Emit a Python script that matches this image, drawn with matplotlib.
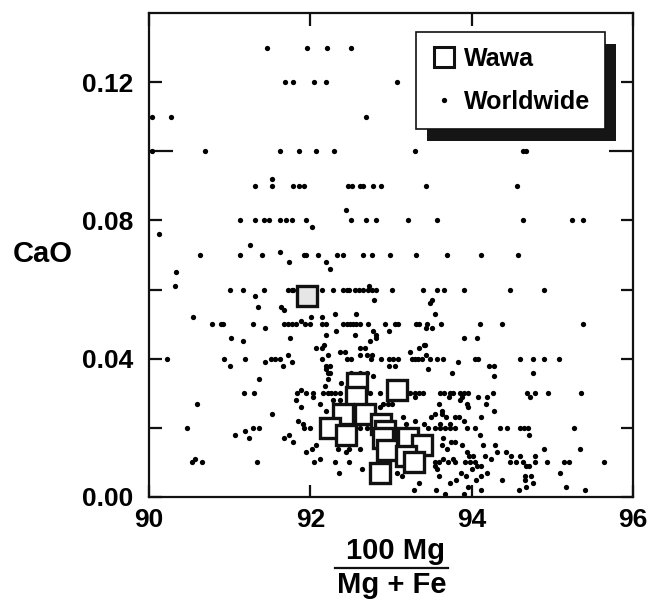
import matplotlib
matplotlib.use('Agg')
import matplotlib.pyplot as plt
from matplotlib.patches import Rectangle
from matplotlib.lines import Line2D

plt.rcParams['font.family'] = ['Liberation Sans', 'DejaVu Sans']
plt.rcParams['font.weight'] = 'bold'

# Wawa olivines (100Mg/(Mg+Fe), CaO)
wawa_mg = [91.96, 92.58, 93.07, 92.56, 92.41, 92.68, 92.25, 92.44, 92.87,
           92.92, 92.90, 93.21, 93.38, 92.95, 93.18, 93.29, 92.86]
wawa_cao = [0.058, 0.033, 0.031, 0.029, 0.024, 0.024, 0.020, 0.018, 0.021,
            0.019, 0.017, 0.017, 0.015, 0.0135, 0.012, 0.010, 0.007]

# worldwide olivine inclusions, read row by row from the top
world_mg = [
    91.46, 91.96, 92.21, 92.51,
    91.68, 91.78, 92.04, 92.20, 93.07,
    90.04, 90.27, 92.69,
    90.04, 90.69, 91.62, 91.86, 92.07, 92.29, 93.30, 94.64, 94.67,
    91.53,
    91.31, 91.53, 91.79, 91.86, 91.92, 92.47, 92.52, 92.62, 92.65, 92.78, 92.87, 93.43, 94.56,
    92.44,
    91.13, 91.31, 91.43, 91.49, 91.63, 91.70, 91.77, 91.95, 92.50, 92.69, 92.82, 93.21, 93.57, 94.64, 95.24, 95.38,
    92.02, 90.13, 91.25,
    90.63, 91.13, 91.40, 91.63, 91.92, 91.95, 92.09, 92.33, 92.40, 92.65, 92.76, 92.99, 93.31, 93.70, 94.12, 94.58,
    91.73, 92.19, 92.24, 90.34, 90.32,
    91.01, 91.17, 91.43, 91.72, 91.77, 91.79, 92.14, 92.28, 92.40, 92.45, 92.48, 92.55, 92.60, 92.65, 92.71,
    92.76, 92.81, 92.73, 93.01, 93.40, 93.57, 93.66, 93.90, 94.47, 94.90,
    91.32, 92.79, 93.51, 93.48, 91.35, 91.64, 91.67, 93.55, 92.31, 92.57,
    90.55, 92.01, 92.14, 91.88,
    90.78, 90.89, 90.92, 91.29, 91.67, 91.72, 91.77, 91.82, 91.94, 91.99, 92.14, 92.19, 92.41, 92.45, 92.49,
    92.53, 92.57, 92.62, 92.72, 92.93, 93.05, 93.09, 93.31, 93.35, 93.45, 93.62, 94.10, 94.38, 95.38,
    91.44, 93.44, 93.51, 92.98, 92.32, 92.78, 92.82, 92.81, 92.19, 92.55, 91.02, 91.75, 93.90, 94.06, 91.17,
    92.74, 92.17, 93.42, 92.07, 92.15, 92.61, 92.68, 93.35, 93.41, 93.24, 92.37, 92.43, 93.44, 91.72, 92.22,
    92.62, 92.70, 92.77,
    90.22, 90.93, 91.19, 91.51, 91.56, 91.62, 92.14, 92.45, 92.51, 92.75, 92.88, 92.97, 93.03, 93.09, 93.26,
    93.30, 93.34, 93.38, 93.48, 93.57, 93.64, 94.04, 94.08, 94.60, 94.76, 94.90, 95.08,
    91.44, 91.77, 93.83, 91.00, 91.66, 92.19, 92.24, 92.98, 93.05, 94.22, 94.28, 92.20, 93.46, 92.22, 92.24,
    93.76, 94.76, 92.50, 92.62, 92.70, 92.78, 94.28, 91.36, 92.22, 92.38, 92.18,
    91.18, 91.30, 91.84, 91.89, 91.95, 92.03, 92.16, 92.22, 92.26, 92.31, 92.37, 92.74, 92.86, 93.24, 93.30,
    93.35, 93.40, 93.61, 93.66, 93.73, 93.77, 93.85, 93.90, 93.95, 94.26, 94.68, 94.78, 94.95, 95.36,
    92.03, 93.30, 93.72, 93.88, 94.08, 94.19, 94.72, 91.82, 92.28, 92.37, 93.85, 90.60, 92.12, 92.90, 92.96,
    93.01, 93.60, 93.94, 94.18, 91.89, 92.86, 93.95, 92.20, 93.63, 94.28, 91.53, 93.63, 93.55, 93.49, 93.68,
    93.79, 93.84, 94.11, 93.15, 91.85, 93.90, 93.30, 91.91, 93.19, 93.41, 93.61, 93.73,
    90.47, 91.29, 91.36, 91.92, 91.99, 92.62, 92.70, 93.46, 93.55, 93.61, 93.67, 93.73, 93.79, 93.94, 94.04,
    94.35, 94.44, 94.60, 94.65, 94.70, 95.27,
    91.19, 91.06, 91.73, 94.10, 94.71, 91.24, 91.67, 93.65, 91.78, 93.74, 93.79, 92.07, 93.63, 93.88, 94.14,
    94.29, 92.02, 92.34, 92.48, 92.62, 93.70, 94.90, 95.34, 91.95, 92.44, 93.94, 94.32, 94.43, 93.97, 94.02,
    94.17, 94.49, 94.60, 94.79, 92.12, 94.24, 90.57, 93.65, 93.77,
    90.53, 90.66, 91.34, 92.04, 92.31, 92.48, 93.55, 93.60, 93.71, 93.79, 93.92, 93.98, 94.04, 94.47, 94.55,
    94.64, 94.78, 94.93, 95.14, 95.21, 95.64,
    93.55, 94.06, 94.12, 94.67, 94.71, 92.64, 93.57, 94.01, 92.35, 93.08, 93.87, 94.19, 95.09, 93.14, 93.60,
    93.93, 94.12, 94.66, 94.73, 93.81, 94.05, 94.38, 94.66, 93.35, 93.73, 94.76, 93.95, 94.67, 95.17, 93.28,
    93.56, 94.12, 94.59, 95.40, 93.67, 93.90,
]
world_cao = [
    0.130, 0.130, 0.130, 0.130,
    0.120, 0.120, 0.120, 0.120, 0.120,
    0.110, 0.110, 0.110,
    0.100, 0.100, 0.100, 0.100, 0.100, 0.100, 0.100, 0.100, 0.100,
    0.092,
    0.090, 0.090, 0.090, 0.090, 0.090, 0.090, 0.090, 0.090, 0.090, 0.090, 0.090, 0.090, 0.090,
    0.083,
    0.080, 0.080, 0.080, 0.080, 0.080, 0.080, 0.080, 0.080, 0.080, 0.080, 0.080, 0.080, 0.080, 0.080, 0.080, 0.080,
    0.078, 0.076, 0.073,
    0.070, 0.070, 0.070, 0.071, 0.070, 0.070, 0.070, 0.070, 0.070, 0.070, 0.070, 0.070, 0.070, 0.070, 0.070, 0.070,
    0.068, 0.068, 0.066, 0.065, 0.061,
    0.060, 0.060, 0.060, 0.060, 0.060, 0.060, 0.060, 0.060, 0.060, 0.060, 0.060, 0.060, 0.060, 0.060, 0.060,
    0.060, 0.060, 0.061, 0.060, 0.060, 0.060, 0.060, 0.060, 0.060, 0.060,
    0.058, 0.057, 0.057, 0.056, 0.055, 0.055, 0.054, 0.053, 0.053, 0.053,
    0.052, 0.052, 0.052, 0.051,
    0.050, 0.050, 0.050, 0.050, 0.050, 0.050, 0.050, 0.050, 0.050, 0.050, 0.050, 0.050, 0.050, 0.050, 0.050,
    0.050, 0.050, 0.050, 0.050, 0.050, 0.050, 0.050, 0.050, 0.050, 0.050, 0.050, 0.050, 0.050, 0.050,
    0.049, 0.049, 0.049, 0.048, 0.048, 0.048, 0.047, 0.046, 0.047, 0.047, 0.046, 0.046, 0.046, 0.046, 0.045,
    0.045, 0.044, 0.044, 0.043, 0.043, 0.043, 0.043, 0.043, 0.044, 0.042, 0.042, 0.042, 0.041, 0.041, 0.041,
    0.041, 0.041, 0.041,
    0.040, 0.040, 0.040, 0.040, 0.040, 0.040, 0.040, 0.040, 0.040, 0.040, 0.040, 0.040, 0.040, 0.040, 0.040,
    0.040, 0.040, 0.040, 0.040, 0.040, 0.040, 0.040, 0.040, 0.040, 0.040, 0.040, 0.040,
    0.039, 0.039, 0.039, 0.038, 0.038, 0.038, 0.038, 0.038, 0.038, 0.038, 0.038, 0.037, 0.037, 0.036, 0.036,
    0.036, 0.036, 0.036, 0.036, 0.036, 0.035, 0.035, 0.034, 0.034, 0.033, 0.032,
    0.030, 0.030, 0.030, 0.031, 0.030, 0.030, 0.030, 0.030, 0.030, 0.030, 0.030, 0.030, 0.030, 0.030, 0.030,
    0.030, 0.030, 0.030, 0.030, 0.030, 0.030, 0.030, 0.030, 0.030, 0.030, 0.030, 0.030, 0.030, 0.030,
    0.029, 0.029, 0.029, 0.029, 0.029, 0.029, 0.029, 0.028, 0.028, 0.028, 0.028, 0.027, 0.027, 0.027, 0.027,
    0.027, 0.027, 0.027, 0.027, 0.026, 0.026, 0.026, 0.025, 0.025, 0.025, 0.024, 0.024, 0.024, 0.023, 0.023,
    0.023, 0.023, 0.023, 0.023, 0.022, 0.022, 0.022, 0.021, 0.021, 0.021, 0.021, 0.021,
    0.020, 0.020, 0.020, 0.020, 0.020, 0.020, 0.020, 0.020, 0.020, 0.020, 0.020, 0.020, 0.020, 0.020, 0.020,
    0.020, 0.020, 0.020, 0.020, 0.020, 0.020,
    0.019, 0.018, 0.018, 0.018, 0.018, 0.017, 0.017, 0.017, 0.016, 0.016, 0.016, 0.015, 0.015, 0.015, 0.015,
    0.015, 0.014, 0.014, 0.014, 0.014, 0.014, 0.014, 0.014, 0.013, 0.013, 0.013, 0.013, 0.013, 0.012, 0.012,
    0.012, 0.012, 0.012, 0.012, 0.011, 0.011, 0.011, 0.011, 0.011,
    0.010, 0.010, 0.010, 0.010, 0.010, 0.010, 0.010, 0.010, 0.010, 0.010, 0.010, 0.010, 0.010, 0.010, 0.010,
    0.010, 0.010, 0.010, 0.010, 0.010, 0.010,
    0.009, 0.009, 0.009, 0.009, 0.009, 0.008, 0.008, 0.008, 0.007, 0.007, 0.007, 0.007, 0.007, 0.006, 0.006,
    0.006, 0.006, 0.006, 0.006, 0.005, 0.005, 0.005, 0.005, 0.004, 0.004, 0.004, 0.003, 0.003, 0.003, 0.002,
    0.002, 0.002, 0.002, 0.002, 0.001, 0.001,
]

x_ticks = [90, 92, 94, 96]
y_ticks = [0.00, 0.02, 0.04, 0.06, 0.08, 0.12]
y_ticklabels = ['0.00', '', '0.04', '', '0.08', '0.12']

fig = plt.figure(figsize=(6.49, 6.0), dpi=100)
ax = fig.add_axes([149 / 649, 103 / 600, 484 / 649, 484 / 600])

ax.plot(world_mg, world_cao, 'o', ms=3.8, color='black', mec='none',
        label='Worldwide', zorder=2)
ax.plot(wawa_mg[1:], wawa_cao[1:], 's', ms=14.5, mfc='white', mec='#111111',
        mew=2.4, zorder=3)
ax.plot(wawa_mg[:1], wawa_cao[:1], 's', ms=14.5, mfc='#e6e6e6', mec='#111111',
        mew=2.4, zorder=3)

ax.set_xlim(90, 96)
ax.set_ylim(0, 0.14)
ax.set_xticks(x_ticks)
ax.set_xticklabels([str(t) for t in x_ticks])
ax.set_yticks(y_ticks)
ax.set_yticklabels(y_ticklabels)
ax.set_yticks([0.10], minor=True)
ax.tick_params(which='both', direction='in', top=True, right=True, width=1.6,
               labelsize=19, color='#111111')
ax.tick_params(which='major', length=9)
ax.tick_params(which='minor', axis='y', length=17)
ax.tick_params(axis='x', pad=8)
ax.tick_params(axis='y', pad=11)
for lab in ax.get_xticklabels() + ax.get_yticklabels():
    lab.set_fontweight('bold')
for s in ax.spines.values():
    s.set_linewidth(1.6)
    s.set_color('#111111')

ax.set_ylabel('CaO', rotation=0, fontsize=21, fontweight='bold',
              ha='center', va='center')
ax.yaxis.set_label_coords(-0.219, 0.502)

# fraction-style x label
fig.text(396 / 649, 1 - 551 / 600, '100 Mg', fontsize=21, fontweight='bold',
         ha='center', va='center')
fig.text(392 / 649, 1 - 585 / 600, 'Mg + Fe', fontsize=21, fontweight='bold',
         ha='center', va='center')
fig.add_artist(Line2D([335 / 649, 448 / 649], [1 - 568 / 600, 1 - 568 / 600],
                      transform=fig.transFigure, color='#111111', lw=1.6))

handles = [
    Line2D([], [], ls='none', marker='s', ms=15, mfc='white', mec='#111111', mew=2.2),
    Line2D([], [], ls='none', marker='o', ms=3.8, color='black', mec='none'),
]
leg = ax.legend(handles, ['Wawa', 'Worldwide'], loc='upper right',
                bbox_to_anchor=(0.942, 0.961), borderaxespad=0, fancybox=False,
                frameon=True, edgecolor='#111111', framealpha=1,
                prop={'size': 18, 'weight': 'bold'}, handlelength=1.0,
                handletextpad=0.3, labelspacing=0.75, borderpad=0.6)
leg.get_frame().set_linewidth(1.2)
leg.set_zorder(6)

# black drop shadow behind the legend box
fig.canvas.draw()
bb = leg.get_window_extent().transformed(ax.transAxes.inverted())
shadow = Rectangle((bb.x0 + 11 / 484, bb.y0 - 12 / 484), bb.width, bb.height,
                   transform=ax.transAxes, facecolor='#151515', edgecolor='none',
                   zorder=5, clip_on=False)
ax.add_artist(shadow)

fig.savefig('out.png', dpi=100)
